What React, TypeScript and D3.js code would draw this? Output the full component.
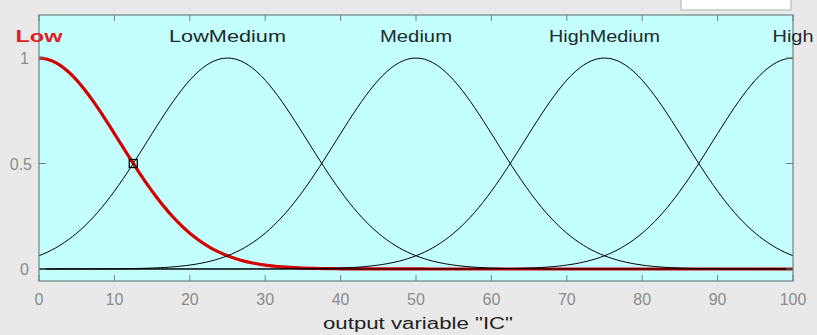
import React, { useEffect, useRef } from 'react'
import * as d3 from 'd3'

// membership functions of output variable "IC" (gaussmf: sigma, center)
const mfNames = ['Low', 'LowMedium', 'Medium', 'HighMedium', 'High']
const mfCenters = [0, 25, 50, 75, 100]
const mfSigmas = [10.62, 10.62, 10.62, 10.62, 10.62]
const selectedMf = 'Low'

const xTicks = [0, 10, 20, 30, 40, 50, 60, 70, 80, 90, 100]
const yTicks = [0, 0.5, 1]
const xLabel = 'output variable "IC"'

const width = 817
const height = 335

const App = () => {
  const svgRef = useRef<SVGSVGElement>(null)

  useEffect(() => {
    const svg = d3.select(svgRef.current)
    svg.selectAll('*').remove()

    const left = 39, right = 793, top = 15, bottom = 281
    const x = d3.scaleLinear().domain([0, 100]).range([left, right])
    const y = d3.scaleLinear().domain([-0.057, 1.204]).range([bottom, top])

    // figure background
    svg.append('rect').attr('width', width).attr('height', height).attr('fill', '#e9e9e9')
    svg.append('rect').attr('x', 681).attr('y', -2).attr('width', 110).attr('height', 12)
      .attr('fill', '#ffffff').attr('stroke', '#b0b0b0')

    // axes box
    svg.append('rect')
      .attr('x', left).attr('y', top)
      .attr('width', right - left).attr('height', bottom - top)
      .attr('fill', '#c4ffff')

    const gauss = (v: number, c: number, s: number) => Math.exp(-((v - c) ** 2) / (2 * s * s))
    const xs = d3.range(0, 100.0001, 100 / 180)
    const line = d3.line<number[]>().x(d => x(d[0])).y(d => y(d[1]))

    // selected mf (red, thick) drawn first
    mfNames.forEach((name, i) => {
      if (name !== selectedMf) return
      svg.append('path')
        .datum(xs.map(v => [v, gauss(v, mfCenters[i], mfSigmas[i])]))
        .attr('d', line)
        .attr('fill', 'none')
        .attr('stroke', '#d40000')
        .attr('stroke-width', 3.2)
    })
    mfNames.forEach((name, i) => {
      if (name === selectedMf) return
      svg.append('path')
        .datum(xs.map(v => [v, gauss(v, mfCenters[i], mfSigmas[i])]))
        .attr('d', line)
        .attr('fill', 'none')
        .attr('stroke', '#000')
        .attr('stroke-width', 1)
    })

    // handle marker on selected mf at 0.5
    const si = mfNames.indexOf(selectedMf)
    const hx = mfCenters[si] + mfSigmas[si] * Math.sqrt(2 * Math.log(2))
    svg.append('rect')
      .attr('x', x(hx) - 4).attr('y', y(0.5) - 4)
      .attr('width', 8).attr('height', 8)
      .attr('fill', 'none').attr('stroke', '#000').attr('stroke-width', 1.3)

    // axes border
    svg.append('rect')
      .attr('x', left).attr('y', top)
      .attr('width', right - left).attr('height', bottom - top)
      .attr('fill', 'none').attr('stroke', '#6f8080').attr('stroke-width', 1.2)

    // ticks (inside) + labels
    const tickColor = '#6f8080'
    svg.selectAll('.xb').data(xTicks).join('line')
      .attr('x1', d => x(d)).attr('x2', d => x(d))
      .attr('y1', bottom).attr('y2', bottom - 6)
      .attr('stroke', tickColor)
    svg.selectAll('.xt').data(xTicks).join('line')
      .attr('x1', d => x(d)).attr('x2', d => x(d))
      .attr('y1', top).attr('y2', top + 6)
      .attr('stroke', tickColor)
    svg.selectAll('.yl').data(yTicks).join('line')
      .attr('x1', left).attr('x2', left + 7)
      .attr('y1', d => y(d)).attr('y2', d => y(d))
      .attr('stroke', tickColor)
    svg.selectAll('.yr').data(yTicks).join('line')
      .attr('x1', right).attr('x2', right - 7)
      .attr('y1', d => y(d)).attr('y2', d => y(d))
      .attr('stroke', tickColor)

    svg.selectAll('.xlab').data(xTicks).join('text')
      .attr('x', d => x(d)).attr('y', 305)
      .attr('text-anchor', 'middle')
      .attr('font-family', 'Liberation Sans, Arial, sans-serif')
      .attr('font-size', 16).attr('fill', '#8c8c8c')
      .text(d => d)
    svg.selectAll('.ylab').data(yTicks).join('text')
      .attr('x', d => (d === 0.5 ? 32 : 29)).attr('y', d => y(d) + 6)
      .attr('text-anchor', 'end')
      .attr('font-family', 'Liberation Sans, Arial, sans-serif')
      .attr('font-size', 16).attr('fill', '#8c8c8c')
      .text(d => d)

    svg.append('text')
      .attr('x', 323).attr('y', 329)
      .attr('textLength', 190).attr('lengthAdjust', 'spacingAndGlyphs')
      .attr('font-family', 'Liberation Sans, Arial, sans-serif')
      .attr('font-size', 16).attr('fill', '#222')
      .text(xLabel)

    // mf names above peaks
    const nameWidths: Record<string, number> = { Low: 47, LowMedium: 117, Medium: 72, HighMedium: 111, High: 41 }
    mfNames.forEach((name, i) => {
      const w = nameWidths[name]
      svg.append('text')
        .attr('x', x(mfCenters[i]) - w / 2).attr('y', 42)
        .attr('textLength', w).attr('lengthAdjust', 'spacingAndGlyphs')
        .attr('font-family', 'Liberation Sans, Arial, sans-serif')
        .attr('font-size', 17)
        .attr('font-weight', name === selectedMf ? 'bold' : 'normal')
        .attr('fill', name === selectedMf ? '#e02020' : '#1e2a2a')
        .text(name)
    })
  }, [])

  return (
    <svg ref={svgRef} width={width} height={height}
      style={{ position: 'absolute', left: 0, top: 0, display: 'block' }} />
  )
}

export default App
